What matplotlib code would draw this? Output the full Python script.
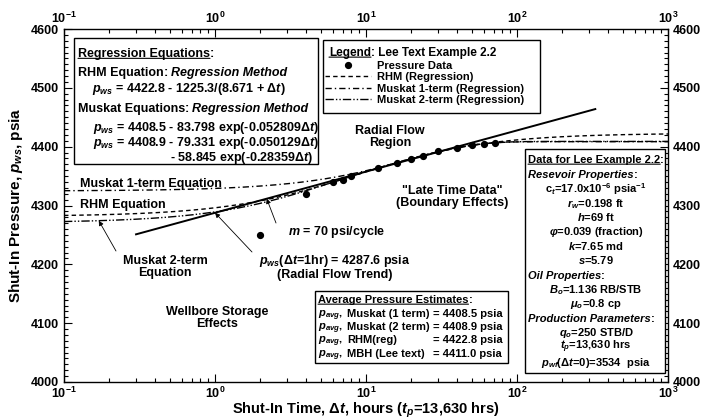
import matplotlib
matplotlib.use("Agg")
import matplotlib.pyplot as plt
from matplotlib.patches import Rectangle
from matplotlib.ticker import MultipleLocator, LogLocator
import numpy as np

plt.rcParams["font.family"] = ["Liberation Sans", "DejaVu Sans"]
plt.rcParams["font.weight"] = "bold"
plt.rcParams["axes.labelweight"] = "bold"
plt.rcParams["mathtext.fontset"] = "custom"
plt.rcParams["mathtext.rm"] = "Liberation Sans:bold"
plt.rcParams["mathtext.it"] = "Liberation Sans:italic:bold"
plt.rcParams["mathtext.bf"] = "Liberation Sans:bold"
plt.rcParams["mathtext.sf"] = "Liberation Sans"

# Lee Example 2.2 buildup data (points above 4000 psia)
dt_hr = [2, 4, 6, 7, 8, 12, 16, 20, 24, 30, 40, 50, 60, 72]
pws_psia = [4250, 4320, 4340, 4344, 4350, 4364, 4373, 4379, 4384, 4393, 4398, 4402, 4405, 4407]

# regression fits
rhm_pbar, rhm_a, rhm_b = 4422.8, 1225.3, 8.671
mk1_pbar, mk1_a, mk1_b = 4408.5, 83.798, 0.052809
mk2_pbar, mk2_a1, mk2_b1, mk2_a2, mk2_b2 = 4408.9, 79.331, 0.050129, 58.845, 0.28359

# semilog radial flow line
m_slope = 70.0
p_1hr = 4287.6
radial_dt = np.array([0.3, 330.0])

avg_labels = ["Muskat (1 term)", "Muskat (2 term)", "RHM(reg)", "MBH (Lee text)"]
avg_values = [4408.5, 4408.9, 4422.8, 4411.0]

t = np.logspace(-1, 3, 400)
p_rhm = rhm_pbar - rhm_a / (rhm_b + t)
p_mk1 = mk1_pbar - mk1_a * np.exp(-mk1_b * t)
p_mk2 = mk2_pbar - mk2_a1 * np.exp(-mk2_b1 * t) - mk2_a2 * np.exp(-mk2_b2 * t)
p_rad = p_1hr + m_slope * np.log10(radial_dt)

DT = r"$\mathsf{\Delta}t$"


def semilog(dt):
    return p_1hr + m_slope * np.log10(dt)


def mk2(dt):
    return mk2_pbar - mk2_a1 * np.exp(-mk2_b1 * dt) - mk2_a2 * np.exp(-mk2_b2 * dt)


W, H = 707, 420
L, R, T, B = 64, 668, 29, 382

fig = plt.figure(figsize=(W / 100, H / 100), dpi=100)
ax = fig.add_axes([L / W, 1 - B / H, (R - L) / W, (B - T) / H])


def axy(px, py):
    return ((px - L) / (R - L), (B - py) / (B - T))


ax.plot(t, p_rhm, color="black", lw=1, ls=(0, (3.2, 2.3)), label="RHM (Regression)")
ax.plot(t, p_mk1, color="black", lw=1, ls=(0, (4.5, 2.2, 1, 2.2)), label="Muskat 1-term (Regression)")
ax.plot(t, p_mk2, color="black", lw=1, ls=(0, (6, 1.5, 1, 1.5, 1, 1.5)), label="Muskat 2-term (Regression)")
ax.plot(radial_dt, p_rad, color="black", lw=1.4)
ax.plot(dt_hr, pws_psia, "o", color="black", ms=4.2, label="Pressure Data")

ax.set_xscale("log")
ax.set_xlim(0.1, 1000)
ax.set_ylim(4000, 4600)
ax.yaxis.set_major_locator(MultipleLocator(100))
ax.yaxis.set_minor_locator(MultipleLocator(10))
ax.xaxis.set_minor_locator(LogLocator(base=10, subs=np.arange(2, 10)))
ax.tick_params(which="both", direction="in", top=True, right=True,
               labeltop=True, labelright=True, labelsize=9, width=0.8)
ax.tick_params(axis="x", pad=2.5)
ax.tick_params(which="major", length=6)
ax.tick_params(which="minor", length=3)
for s in ax.spines.values():
    s.set_linewidth(1)

ax.set_xlabel(r"Shut-In Time, " + DT + r", hours ($t_p$=13,630 hrs)", fontsize=10.5, labelpad=0)
ax.set_ylabel(r"Shut-In Pressure, $p_{ws}$, psia", fontsize=11, labelpad=4)


def box(x0, y0, x1, y1):
    a0 = axy(x0, y1)
    a1 = axy(x1, y0)
    ax.add_patch(Rectangle(a0, a1[0] - a0[0], a1[1] - a0[1], transform=ax.transAxes,
                           facecolor="white", edgecolor="black", lw=1, zorder=4))


def line(x, y, s, ha="left", size=8, style="normal"):
    return ax.text(*axy(x, y + 0.42 * size), s, transform=ax.transAxes, ha=ha, va="baseline",
                   fontsize=size, style=style, zorder=6)


def header(x, y, main, italic=False, underline=False, tail=":", size=8):
    t1 = line(x, y, main, size=size, style="italic" if italic else "normal")
    ax.annotate(tail, xy=(1, 0.5), xycoords=t1, ha="left", va="center", fontsize=size, zorder=6)
    if underline:
        ax.annotate("", xy=(0, 0.12), xycoords=t1, xytext=(1, 0.12), textcoords=t1,
                    arrowprops=dict(arrowstyle="-", lw=0.8, shrinkA=0, shrinkB=0), zorder=6)
    return t1


# regression equation box
box(74, 38, 318, 164)
header(78, 53, "Regression Equations", underline=True, size=9)
for yy_, name in [(72, "RHM Equation"), (108, "Muskat Equations")]:
    t1 = header(78, yy_, name, tail=": ", size=9)
    ax.annotate("Regression Method", xy=(1, 0.5), xycoords=t1, ha="left", va="center",
                fontsize=9, style="italic", zorder=6, xytext=(5, 0), textcoords="offset points")
line(92, 88, r"$p_{ws}$ = 4422.8 - 1225.3/(8.671 + " + DT + ")", size=9)
line(93, 127, r"$p_{ws}$ = 4408.5 - 83.798 exp(-0.052809" + DT + ")", size=9)
line(93, 142, r"$p_{ws}$ = 4408.9 - 79.331 exp(-0.050129" + DT + ")", size=9)
line(170, 157, r"- 58.845 exp(-0.28359" + DT + ")", size=9)

# legend box
box(323, 40, 540, 113)
header(329, 52, "Legend", underline=True, tail=": Lee Text Example 2.2", size=8.5)
handles, labels = ax.get_legend_handles_labels()
order = [3, 0, 1, 2]
leg = ax.legend([handles[i] for i in order], [labels[i] for i in order],
                loc="upper left", bbox_to_anchor=axy(325, 61), frameon=False, fontsize=8,
                handlelength=4.1, handletextpad=0.55, labelspacing=0.12, borderpad=0,
                borderaxespad=0, numpoints=1)
leg.set_zorder(7)

# data box
box(525, 149, 665, 373)
dy = 14.4
yy = [160 + i * dy for i in range(15)]
cx = 596
header(528, yy[0], "Data for Lee Example 2.2", underline=True)
header(528, yy[1], "Resevoir Properties", italic=True)
line(cx, yy[2] + 1, r"c$_t$=17.0x10$^{-6}$ psia$^{-1}$", ha="center")
line(cx, yy[3] + 1, r"$r_w$=0.198 ft", ha="center")
line(cx, yy[4], r"$h$=69 ft", ha="center")
line(cx, yy[5], r"$\varphi$=0.039 (fraction)", ha="center")
line(cx, yy[6], r"$k$=7.65 md", ha="center")
line(cx, yy[7], r"$s$=5.79", ha="center")
header(528, yy[8], "Oil Properties", italic=True)
line(cx, yy[9], r"$B_o$=1.136 RB/STB", ha="center")
line(cx, yy[10], r"$\mu_o$=0.8 cp", ha="center")
header(528, yy[11], "Production Parameters", italic=True)
line(cx, yy[12], r"$q_o$=250 STB/D", ha="center")
line(cx, yy[13] - 1, r"$t_p$=13,630 hrs", ha="center")
line(cx, yy[14] + 1, r"$p_{wf}$(" + DT + "=0)=3534  psia", ha="center")

# average pressure box
box(315, 291, 508, 363)
header(318, 300, "Average Pressure Estimates", underline=True)
for i, (lab, val) in enumerate(zip(avg_labels, avg_values)):
    y = 313.5 + i * 13.3
    line(318, y, r"$p_{avg}$,")
    line(347, y, lab)
    line(433, y, f"= {val:.1f} psia")


# region and curve annotations
def label(x, y, s, ha="left"):
    ax.text(*axy(x, y), s, transform=ax.transAxes, ha=ha, va="center", fontsize=9,
            linespacing=1.05, zorder=5)


label(80, 184, "Muskat 1-term Equation")
label(80, 205, "RHM Equation")
label(165, 267, "Muskat 2-term\nEquation", ha="center")
label(390, 137, "Radial Flow\nRegion", ha="center")
label(452, 197, "\"Late Time Data\"\n(Boundary Effects)", ha="center")
label(217, 318, "Wellbore Storage\nEffects", ha="center")
label(288, 232, r"$m$ = 70 psi/cycle")
label(335, 267, r"$p_{ws}$(" + DT + "=1hr) = 4287.6 psia\n(Radial Flow Trend)", ha="center")

arrow = dict(arrowstyle="-|>", lw=0.6, color="black", mutation_scale=7, shrinkA=0, shrinkB=0)
ax.annotate("", xy=(2.2, semilog(2.2)), xytext=axy(276, 223), textcoords="axes fraction", arrowprops=arrow)
ax.annotate("", xy=(1.0, semilog(1.0)), xytext=axy(252, 252), textcoords="axes fraction", arrowprops=arrow)
ax.annotate("", xy=(0.17, mk2(0.17)), xytext=axy(116, 251), textcoords="axes fraction", arrowprops=arrow)

fig.savefig("out.png", dpi=100)
